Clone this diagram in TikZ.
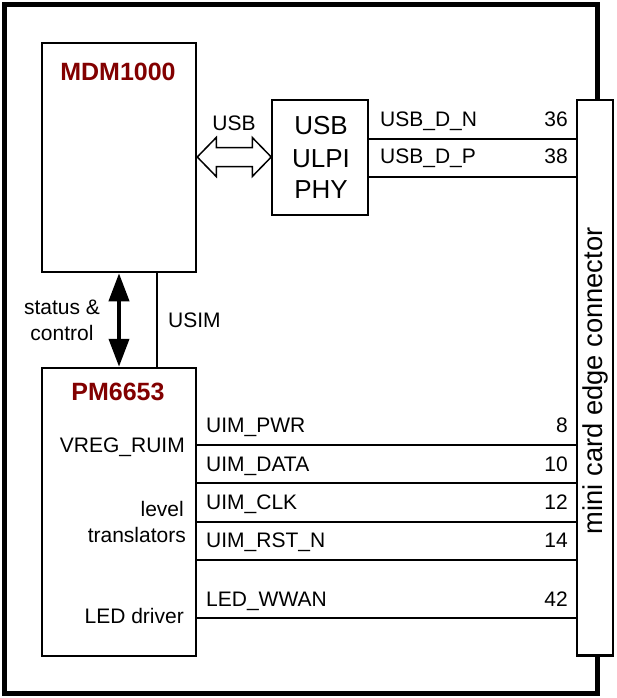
\documentclass[tikz,border=0pt]{standalone}
\usepackage{fontspec}
\setmainfont{Liberation Sans}
\usetikzlibrary{arrows.meta,calc}
\definecolor{chipred}{RGB}{130,0,0}
\tikzset{
  frame/.style={line width=5pt},
  chipbox/.style={draw, line width=2.5pt, rectangle, inner sep=0pt},
  phybox/.style={draw, line width=1.5pt, rectangle, inner sep=0pt},
  connbox/.style={draw, line width=2.5pt, rectangle, fill=white, inner sep=0pt},
  chiptitle/.style={font=\fontsize{25}{30}\selectfont\bfseries, text=chipred, anchor=base, inner sep=0pt},
  lbl/.style={font=\fontsize{21}{25}\selectfont, inner sep=0pt},
  phytext/.style={font=\fontsize{26}{31}\selectfont, anchor=base, inner sep=0pt},
  sig/.style={line width=2pt},
  hollow/.style={draw, line width=1.5pt, fill=white, line join=miter},
  ctrl/.style={line width=4pt, {Triangle[length=28pt,width=20pt]}-{Triangle[length=28pt,width=20pt]}},
}
\begin{document}
\begin{tikzpicture}[x=1pt,y=-1pt]
\useasboundingbox (0,0) rectangle (616,698);
% outer frame
\draw[frame] (4.5,4.5) rectangle (597.5,693);
% boxes
\node[chipbox, minimum width=154pt, minimum height=229pt] (mdm) at (119,157.5) {};
\node[chipbox, minimum width=154pt, minimum height=288pt] (pm) at (119,512) {};
\node[phybox, minimum width=96pt, minimum height=115pt] (phy) at (320,157.5) {};
\node[connbox, minimum width=36pt, minimum height=555.5pt] (conn) at (595,377.75) {};
\node[lbl, rotate=90, font=\fontsize{27.3}{32}\selectfont] (conntxt) at ($(conn.center)+(0,3)$) {mini card edge connector};
% titles
\node[chiptitle] (mdmt) at (118,81) {MDM1000};
\node[chiptitle] (pmt) at (118,400) {PM6653};
% phy text
\node[phytext] (phy1) at (321,135) {USB};
\node[phytext] (phy2) at (321,167) {ULPI};
\node[phytext] (phy3) at (321,198) {PHY};
% hollow double arrow
\coordinate (ua) at (mdm.east |- 0,157);
\coordinate (ub) at (phy.west |- 0,157);
\draw[hollow] (ua) -- ++(19,-19.5) -- ++(0,10) -- ($(ub)+(-19,-9.5)$) -- ++(0,-10) -- (ub)
  -- ++(-19,19.5) -- ++(0,-10) -- ($(ua)+(19,9.5)$) -- ++(0,10) -- cycle;
\node[lbl, anchor=base] (usbl) at (234,130) {USB};
% USB data lines
\coordinate (yDN) at (0,139);
\coordinate (yDP) at (0,176.7);
\draw[sig] (phy.east |- yDN) -- (conn.west |- yDN);
\draw[sig] (phy.east |- yDP) -- (conn.west |- yDP);
\node[lbl, anchor=base west] (dn) at (380,127) {USB\_D\_N};
\node[lbl, anchor=base east] (p36) at (568,127) {36};
\node[lbl, anchor=base west] (dp) at (380,163) {USB\_D\_P};
\node[lbl, anchor=base east] (p38) at (568,163) {38};
% status & control, USIM
\draw[ctrl] (mdm.south -| 119,0) -- (pm.north -| 119,0);
\draw[sig] (mdm.south -| 157,0) -- (pm.north -| 157,0);
\node[lbl, anchor=base] (st1) at (62,314) {status \&};
\node[lbl, anchor=base] (st2) at (62,340) {control};
\node[lbl, anchor=base west] (usim) at (168,327) {USIM};
% PM internal labels
\node[lbl, anchor=base east] (vreg) at (185,452) {VREG\_RUIM};
\node[lbl, anchor=base east] (lvl1) at (184,516) {level};
\node[lbl, anchor=base east] (lvl2) at (186,542) {translators};
\node[lbl, anchor=base east] (led) at (184,623) {LED driver};
% UIM lines
\coordinate (y1) at (0,445);
\coordinate (y2) at (0,483.3);
\coordinate (y3) at (0,521.7);
\coordinate (y4) at (0,560);
\coordinate (y5) at (0,617.7);
\foreach \c in {y1,y2,y3,y4,y5} { \draw[sig] (pm.east |- \c) -- (conn.west |- \c); }
\node[lbl, anchor=base west] (s1) at (206,432) {UIM\_PWR};
\node[lbl, anchor=base east] (n1) at (568,432) {8};
\node[lbl, anchor=base west] (s2) at (206,471) {UIM\_DATA};
\node[lbl, anchor=base east] (n2) at (568,471) {10};
\node[lbl, anchor=base west] (s3) at (206,509) {UIM\_CLK};
\node[lbl, anchor=base east] (n3) at (568,509) {12};
\node[lbl, anchor=base west] (s4) at (206,547) {UIM\_RST\_N};
\node[lbl, anchor=base east] (n4) at (568,547) {14};
\node[lbl, anchor=base west] (s5) at (206,606) {LED\_WWAN};
\node[lbl, anchor=base east] (n5) at (568,606) {42};
\end{tikzpicture}
\end{document}
